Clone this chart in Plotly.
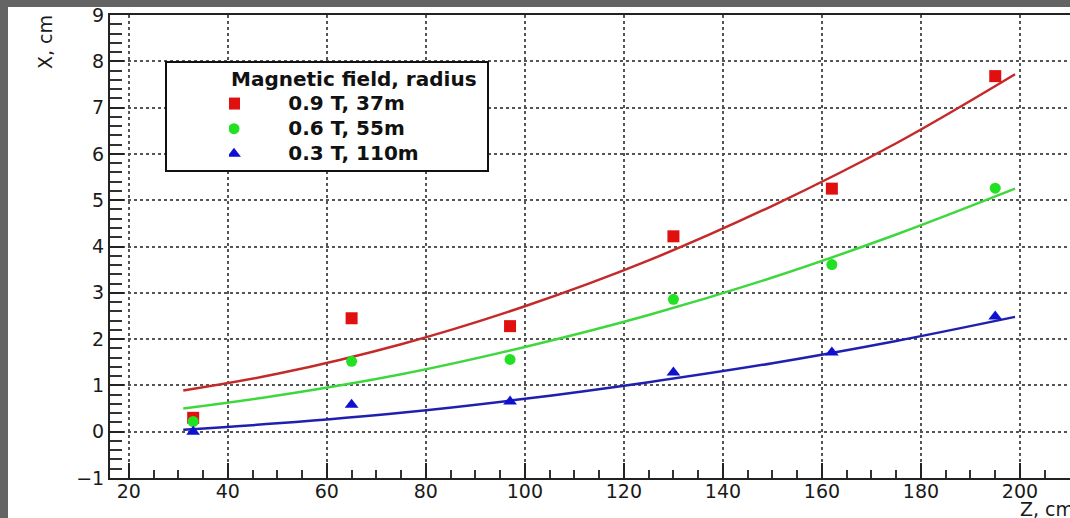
import plotly.graph_objects as go

# Measured deflection X (cm) vs. distance Z (cm) for three field settings
z_points = [33, 65, 97, 130, 162, 195]
x_09T = [0.30, 2.45, 2.28, 4.22, 5.25, 7.68]
x_06T = [0.22, 1.52, 1.56, 2.86, 3.61, 5.26]
x_03T = [0.00, 0.58, 0.65, 1.28, 1.71, 2.49]

# Fitted curves, sampled along Z
z_fit = [31, 50, 75, 100, 125, 150, 175, 199]
fit_09T = [0.89, 1.25, 1.89, 2.71, 3.70, 4.88, 6.23, 7.72]
fit_06T = [0.50, 0.78, 1.24, 1.83, 2.52, 3.33, 4.26, 5.25]
fit_03T = [0.04, 0.18, 0.41, 0.71, 1.07, 1.48, 1.96, 2.48]

legend_title = "Magnetic field, radius"
labels = ["0.9 T, 37m", "0.6 T, 55m", "0.3 T, 110m"]
x_ticks = [20, 40, 60, 80, 100, 120, 140, 160, 180, 200]
y_ticks = [-1, 0, 1, 2, 3, 4, 5, 6, 7, 8, 9]

W, H = 1070, 518
L, R, T, B = 110, 1070, 15, 478  # plot-area edges in pixels


def px(x):
    return (x - L) / (R - L)


def py(y):
    return (B - y) / (B - T)


LEG_FONT = "DejaVu Sans"
PAD = "\u00a0" * 6


def legend_label(text):
    # gap between symbol and text, then the label itself at full size
    return (f'<span style="font-size:18px">{PAD}</span>'
            f'<span style="font-size:20px;font-weight:bold">{text}</span>')


fig = go.Figure()

series = [
    (x_09T, fit_09T, "#e01010", "#c42a2a", "square", 12),
    (x_06T, fit_06T, "#22e022", "#3ed83e", "circle", 11),
    (x_03T, fit_03T, "#1010d0", "#2020b0", "triangle-up", 12),
]
for (pts, fit, mcol, lcol, sym, size), name in zip(series, labels):
    fig.add_trace(go.Scatter(
        x=z_fit, y=fit, mode="lines", line=dict(color=lcol, width=2.5, shape="spline"),
        showlegend=False, hoverinfo="skip"))
    fig.add_trace(go.Scatter(
        x=z_points, y=pts, mode="markers", name=legend_label(name),
        marker=dict(symbol=sym, size=size, color=mcol, line=dict(width=0))))

tick_font = dict(family="DejaVu Sans", size=19, color="#1a1a1a")

fig.update_xaxes(
    range=[16.2, 210.1], tickvals=x_ticks, ticks="inside", ticklen=15, tickwidth=2,
    tickcolor="#222", showline=True, linecolor="#222", linewidth=2, mirror=True,
    showgrid=True, gridcolor="#555", griddash="dot", gridwidth=1.5, zeroline=False,
    tickfont=tick_font, ticklabelstandoff=-5,
    minor=dict(dtick=5, ticks="inside", ticklen=8, tickwidth=2, tickcolor="#333", showgrid=False),
)
fig.update_yaxes(
    range=[-1, 9], tickvals=y_ticks, ticks="inside", ticklen=14, tickwidth=2,
    tickcolor="#222", showline=True, linecolor="#222", linewidth=2, mirror=False,
    showgrid=True, gridcolor="#555", griddash="dot", gridwidth=1.5, zeroline=False,
    tickfont=tick_font,
    minor=dict(dtick=0.2, ticks="inside", ticklen=12, tickwidth=1.5, tickcolor="#333", showgrid=False),
)

shapes = [
    # legend frame
    dict(type="rect", xref="paper", yref="paper", x0=px(166), x1=px(488), y0=py(171), y1=py(62),
         fillcolor="white", line=dict(color="#111", width=2), layer="above"),
    # dark slide border strips
    dict(type="rect", xref="paper", yref="paper", x0=px(0), x1=px(W), y0=py(0), y1=py(7),
         fillcolor="#646464", line=dict(width=0), layer="above"),
    dict(type="rect", xref="paper", yref="paper", x0=px(0), x1=px(8), y0=py(0), y1=py(H),
         fillcolor="#646464", line=dict(width=0), layer="above"),
]

annotations = [
    dict(text="X, cm", textangle=-90, xref="paper", yref="paper", x=px(45), y=py(13),
         xanchor="center", yanchor="top", showarrow=False,
         font=dict(family="DejaVu Sans", size=19, color="#1a1a1a")),
    dict(text="Z, cm", xref="paper", yref="paper", x=px(1018), y=py(509),
         xanchor="left", yanchor="middle", showarrow=False,
         font=dict(family="DejaVu Sans", size=19, color="#1a1a1a")),
]

fig.update_layout(
    width=W, height=H,
    margin=dict(l=L, r=W - R, t=T, b=H - B),
    paper_bgcolor="white", plot_bgcolor="white",
    shapes=shapes, annotations=annotations,
    legend=dict(
        x=px(229), y=py(60), xanchor="left", yanchor="top",
        bgcolor="rgba(0,0,0,0)", borderwidth=0,
        title=dict(text=legend_title,
                   font=dict(family=LEG_FONT, size=20, weight="bold", color="#111")),
        font=dict(family=LEG_FONT, size=17, color="#111"),
        indentation=-15, itemwidth=30,
    ),
)

fig.write_html("out.html")
